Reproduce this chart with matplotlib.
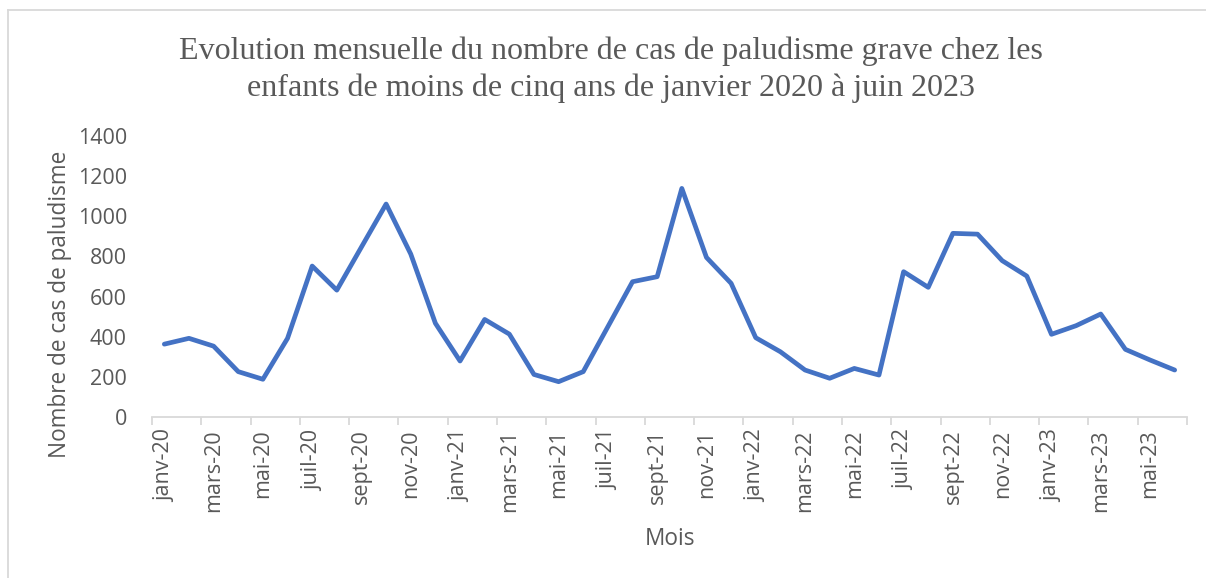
import matplotlib
matplotlib.use("Agg")
import matplotlib.pyplot as plt
from matplotlib.lines import Line2D

months = ["janv", "févr", "mars", "avr", "mai", "juin", "juil", "août", "sept", "oct", "nov", "déc"]
years = ["20", "21", "22", "23"]
categories = [f"{m}-{y}" for y in years for m in months][:42]

cases = [363, 392, 353, 226, 188, 392, 752, 632, 847, 1061, 812, 467,
         279, 486, 413, 212, 176, 226, 450, 674, 699, 1139, 795, 666,
         395, 325, 234, 193, 242, 209, 724, 646, 915, 911, 779, 702,
         412, 455, 513, 337, 284, 234]

title = ("Evolution mensuelle du nombre de cas de paludisme grave chez les\n"
         "enfants de moins de cinq ans de janvier 2020 à juin 2023")
ylabel = "Nombre de cas de paludisme"
xlabel = "Mois"
yticks = [0, 200, 400, 600, 800, 1000, 1200, 1400]

W, H = 1206, 578
fig = plt.figure(figsize=(W / 100, H / 100), dpi=100)
ax = fig.add_axes([152 / W, 1 - 417 / H, (1187 - 152) / W, (417 - 136) / H])

x = list(range(len(cases)))
ax.plot(x, cases, color="#4472C4", linewidth=3.4, solid_capstyle="round", solid_joinstyle="round")

ax.set_xlim(-0.5, len(cases) - 0.5)
ax.set_ylim(0, 1400)
ax.set_yticks(yticks)
ax.set_yticklabels([str(v) for v in yticks], fontfamily="Open Sans", fontsize=15.5, color="#595959")

major = x[::2]
ax.set_xticks(major)
ax.set_xticklabels([categories[i] for i in major], rotation=90, fontfamily="Open Sans",
                   fontsize=15.5, color="#595959")
ax.set_xticks([i - 0.5 for i in range(0, len(cases) + 1, 2)], minor=True)
ax.tick_params(axis="x", which="major", length=0, pad=9)
ax.tick_params(axis="x", which="minor", length=6, color="#d9d9d9", width=1.3)
ax.tick_params(axis="y", length=0, pad=18)

for s in ["top", "right", "left"]:
    ax.spines[s].set_visible(False)
ax.spines["bottom"].set_color("#d9d9d9")
ax.spines["bottom"].set_linewidth(1.3)

fig.text(611 / W, 1 - 70 / H, title, ha="center", va="center", fontfamily="Liberation Serif",
         fontsize=23, color="#595959", linespacing=1.35)
fig.text(60 / W, 1 - 304 / H, ylabel, rotation=90, ha="center", va="center",
         fontfamily="Open Sans", fontsize=16.3, color="#595959")
fig.text(670 / W, 1 - 539 / H, xlabel, ha="center", va="center",
         fontfamily="Open Sans", fontsize=16.3, color="#595959")

# chart border (left and top visible)
fig.add_artist(Line2D([7.5 / W, 7.5 / W], [0, 1 - 9.5 / H], transform=fig.transFigure,
                      color="#d9d9d9", linewidth=1.3))
fig.add_artist(Line2D([7.5 / W, 1], [1 - 9.5 / H, 1 - 9.5 / H], transform=fig.transFigure,
                      color="#d9d9d9", linewidth=1.3))

fig.savefig("out.png", dpi=100)
